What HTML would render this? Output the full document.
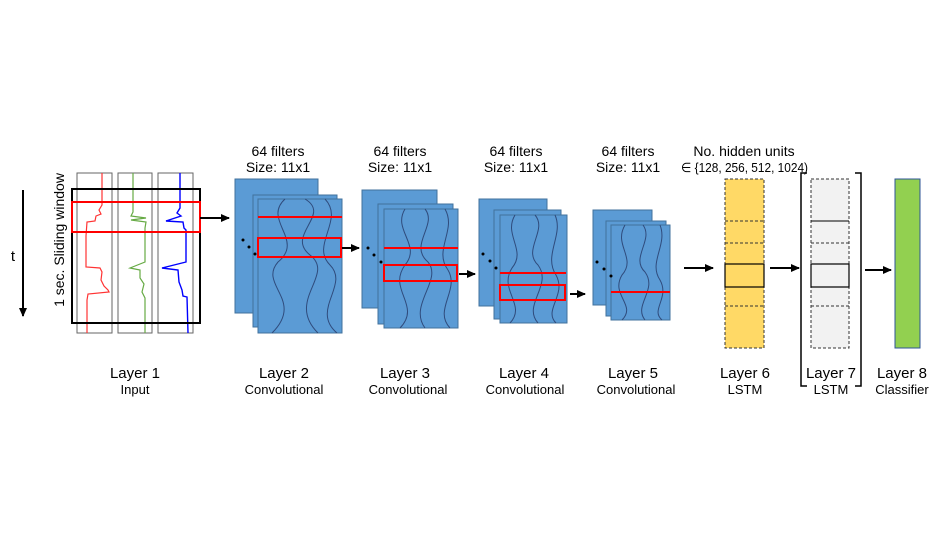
<!DOCTYPE html>
<html><head><meta charset="utf-8"><style>
html,body{margin:0;padding:0;background:#fff;}
svg{display:block;font-family:"Liberation Sans",sans-serif;}
</style></head><body>
<svg width="945" height="533" viewBox="0 0 945 533" xmlns="http://www.w3.org/2000/svg">
<defs>
<marker id="ah" markerWidth="10" markerHeight="10" refX="8" refY="5" orient="auto" markerUnits="userSpaceOnUse"><path d="M0,1 L9,5 L0,9z" fill="#000"/></marker>
</defs>
<rect width="945" height="533" fill="#fff"/>
<text x="13" y="261" font-size="15" text-anchor="middle">t</text>
<line x1="23" y1="190" x2="23" y2="316" stroke="#000" stroke-width="2" marker-end="url(#ah)"/>
<text transform="translate(64,240) rotate(-90)" font-size="14" text-anchor="middle">1 sec. Sliding window</text>
<g fill="none" stroke="#666" stroke-width="1"><rect x="77" y="173" width="35" height="160"/><rect x="118" y="173" width="34" height="160"/><rect x="158" y="173" width="35" height="160"/></g>
<polyline fill="none" stroke="#f33" stroke-width="1.2" points="102,173 102,205 99,210 101,214 96,216 95,221 87,222 86,236 86,267 100,268 102,272 101,280 104,286 108,290 109,292 88,294 87,300 87,333"/>
<polyline fill="none" stroke="#6a4" stroke-width="1.2" points="133,173 133,212 131,216 146,218 131,220 146,222 145,228 145,262 130,268 140,270 140,278 144,284 142,292 145,298 145,333"/>
<polyline fill="none" stroke="#00f" stroke-width="1.4" points="180,173 180,208 177,213 181,216 166,221 183,222 184,228 186,230 186,262 162,268 178,270 179,282 182,290 183,296 187,297 188,333"/>
<rect x="72" y="189" width="128" height="134" fill="none" stroke="#000" stroke-width="2"/>
<rect x="72" y="202" width="128" height="30" fill="none" stroke="#f00" stroke-width="2"/>
<line x1="200" y1="218" x2="229" y2="218" stroke="#000" stroke-width="2" marker-end="url(#ah)"/>
<text x="135" y="378" font-size="15" text-anchor="middle">Layer 1</text>
<text x="135" y="394" font-size="13" text-anchor="middle">Input</text>

<g stroke="#41719c" stroke-width="1" fill="#5b9bd5">
<rect x="235" y="179" width="83" height="134"/><rect x="253" y="195" width="84" height="132"/><rect x="258" y="199" width="84" height="134"/>
</g>
<g fill="none" stroke="#2f4b7c" stroke-width="1">
<path d="M285,199 C262,220 305,240 278,262 C258,285 305,300 272,333"/>
<path d="M305,199 C332,215 285,235 310,255 C336,275 285,300 318,333"/>
<path d="M325,199 C345,220 310,245 330,265 C350,285 310,310 337,333"/>
</g>
<line x1="258" y1="217" x2="342" y2="217" stroke="#f00" stroke-width="2"/>
<rect x="258" y="238" width="83" height="19" fill="none" stroke="#f00" stroke-width="2"/>
<g fill="#000"><circle cx="243" cy="240" r="1.5"/><circle cx="249" cy="247" r="1.5"/><circle cx="255" cy="254" r="1.5"/></g>
<line x1="342" y1="248" x2="359" y2="248" stroke="#000" stroke-width="2" marker-end="url(#ah)"/>
<text x="278" y="156" font-size="14" text-anchor="middle">64 filters</text>
<text x="278" y="172" font-size="14" text-anchor="middle">Size: 11x1</text>
<text x="284" y="378" font-size="15" text-anchor="middle">Layer 2</text>
<text x="284" y="394" font-size="13" text-anchor="middle">Convolutional</text>

<g stroke="#41719c" stroke-width="1" fill="#5b9bd5">
<rect x="362" y="190" width="75" height="118"/><rect x="378" y="204" width="75" height="120"/><rect x="384" y="209" width="74" height="119"/>
</g>
<g fill="none" stroke="#2f4b7c" stroke-width="1">
<path d="M405,209 C392,230 422,245 405,265 C387,290 422,305 400,328"/>
<path d="M425,209 C438,225 408,245 428,262 C443,280 408,305 425,328"/>
<path d="M445,209 C457,230 433,250 448,270 C460,290 433,310 450,328"/>
</g>
<line x1="384" y1="248" x2="458" y2="248" stroke="#f00" stroke-width="2"/>
<rect x="384" y="265" width="73" height="16" fill="none" stroke="#f00" stroke-width="2"/>
<g fill="#000"><circle cx="368" cy="248" r="1.5"/><circle cx="374" cy="255" r="1.5"/><circle cx="381" cy="262" r="1.5"/></g>
<line x1="459" y1="274" x2="475" y2="274" stroke="#000" stroke-width="2" marker-end="url(#ah)"/>
<text x="400" y="156" font-size="14" text-anchor="middle">64 filters</text>
<text x="400" y="172" font-size="14" text-anchor="middle">Size: 11x1</text>
<text x="405" y="378" font-size="15" text-anchor="middle">Layer 3</text>
<text x="408" y="394" font-size="13" text-anchor="middle">Convolutional</text>

<g stroke="#41719c" stroke-width="1" fill="#5b9bd5">
<rect x="479" y="199" width="68" height="107"/><rect x="494" y="210" width="67" height="109"/><rect x="500" y="215" width="67" height="108"/>
</g>
<g fill="none" stroke="#2f4b7c" stroke-width="1">
<path d="M515,215 C503,235 527,250 512,268 C498,290 527,305 510,323"/>
<path d="M535,215 C548,230 522,250 538,265 C553,285 522,305 538,323"/>
<path d="M555,215 C564,235 543,255 556,275 C567,295 543,310 556,323"/>
</g>
<line x1="500" y1="273" x2="566" y2="273" stroke="#f00" stroke-width="2"/>
<rect x="500" y="285" width="65" height="15" fill="none" stroke="#f00" stroke-width="2"/>
<g fill="#000"><circle cx="483" cy="254" r="1.5"/><circle cx="490" cy="261" r="1.5"/><circle cx="496" cy="268" r="1.5"/></g>
<line x1="570" y1="294" x2="585" y2="294" stroke="#000" stroke-width="2" marker-end="url(#ah)"/>
<text x="516" y="156" font-size="14" text-anchor="middle">64 filters</text>
<text x="516" y="172" font-size="14" text-anchor="middle">Size: 11x1</text>
<text x="524" y="378" font-size="15" text-anchor="middle">Layer 4</text>
<text x="525" y="394" font-size="13" text-anchor="middle">Convolutional</text>

<g stroke="#41719c" stroke-width="1" fill="#5b9bd5">
<rect x="593" y="210" width="59" height="95"/><rect x="606" y="221" width="60" height="95"/><rect x="611" y="225" width="59" height="95"/>
</g>
<g fill="none" stroke="#2f4b7c" stroke-width="1">
<path d="M625,225 C613,245 637,258 622,275 C610,295 637,305 622,320"/>
<path d="M643,225 C654,240 630,258 645,272 C658,290 633,305 645,320"/>
<path d="M660,225 C668,245 648,262 660,280 C670,298 650,310 662,320"/>
</g>
<line x1="611" y1="292" x2="670" y2="292" stroke="#f00" stroke-width="2"/>
<g fill="#000"><circle cx="597" cy="262" r="1.5"/><circle cx="604" cy="269" r="1.5"/><circle cx="611" cy="276" r="1.5"/></g>
<line x1="684" y1="268" x2="713" y2="268" stroke="#000" stroke-width="2" marker-end="url(#ah)"/>
<text x="628" y="156" font-size="14" text-anchor="middle">64 filters</text>
<text x="628" y="172" font-size="14" text-anchor="middle">Size: 11x1</text>
<text x="633" y="378" font-size="15" text-anchor="middle">Layer 5</text>
<text x="636" y="394" font-size="13" text-anchor="middle">Convolutional</text>

<text x="744" y="156" font-size="14" text-anchor="middle">No. hidden units</text>
<text x="681" y="172" font-size="13" textLength="127" lengthAdjust="spacingAndGlyphs">∈ {128, 256, 512, 1024)</text>
<rect x="725" y="179" width="39" height="169" fill="#ffd966" stroke="#333" stroke-width="1" stroke-dasharray="3,2"/>
<g stroke="#333" stroke-width="1" stroke-dasharray="3,2"><line x1="725" y1="221" x2="764" y2="221"/><line x1="725" y1="243" x2="764" y2="243"/><line x1="725" y1="306" x2="764" y2="306"/></g>
<rect x="725" y="264" width="39" height="23" fill="none" stroke="#000" stroke-width="1.2"/>
<line x1="770" y1="268" x2="799" y2="268" stroke="#000" stroke-width="2" marker-end="url(#ah)"/>
<text x="745" y="378" font-size="15" text-anchor="middle">Layer 6</text>
<text x="745" y="394" font-size="13" text-anchor="middle">LSTM</text>

<path d="M807,173 H801 V386 H807 M855,173 H861 V386 H855" fill="none" stroke="#000" stroke-width="1.5"/>
<rect x="811" y="179" width="38" height="169" fill="#f2f2f2" stroke="#333" stroke-width="1" stroke-dasharray="3,2"/>
<line x1="811" y1="221" x2="849" y2="221" stroke="#000" stroke-width="1"/>
<g stroke="#333" stroke-width="1" stroke-dasharray="3,2"><line x1="811" y1="243" x2="849" y2="243"/><line x1="811" y1="306" x2="849" y2="306"/></g>
<rect x="811" y="264" width="38" height="23" fill="none" stroke="#000" stroke-width="1.2"/>
<line x1="865" y1="270" x2="891" y2="270" stroke="#000" stroke-width="2" marker-end="url(#ah)"/>
<text x="831" y="378" font-size="15" text-anchor="middle">Layer 7</text>
<text x="831" y="394" font-size="13" text-anchor="middle">LSTM</text>

<rect x="895" y="179" width="25" height="169" fill="#92d050" stroke="#2f5597" stroke-width="1"/>
<text x="902" y="378" font-size="15" text-anchor="middle">Layer 8</text>
<text x="902" y="394" font-size="13" text-anchor="middle">Classifier</text>
</svg>
</body></html>
